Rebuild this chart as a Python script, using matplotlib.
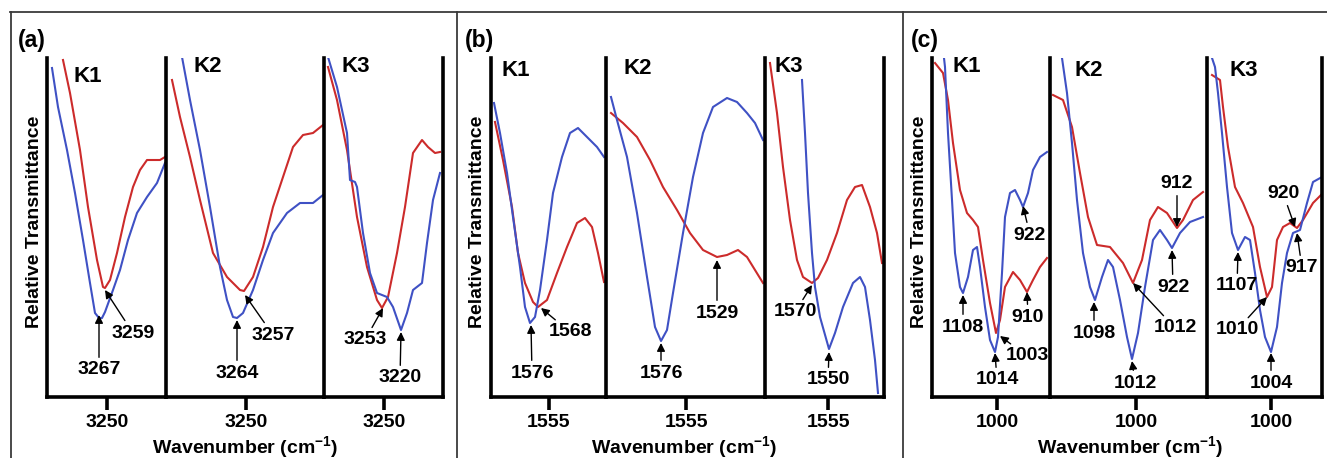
import matplotlib.pyplot as plt
from matplotlib.lines import Line2D

plt.rcParams['font.family'] = 'Liberation Sans'
plt.rcParams['font.weight'] = 'bold'
plt.rcParams['mathtext.fontset'] = 'custom'
plt.rcParams['mathtext.rm'] = 'Liberation Sans:bold'
plt.rcParams['mathtext.default'] = 'rm'

RED = '#cc2b2b'
BLUE = '#3f51c4'

# panel (a): wavenumber (cm-1) and relative transmittance (arbitrary units)
a_k1_blue_x = [3360, 3348, 3330, 3314, 3298, 3284, 3274, 3266, 3260, 3254, 3238, 3224, 3208, 3190, 3170, 3150, 3134]
a_k1_blue_y = [329, 290, 247, 204, 157, 114, 84, 79, 79, 85, 107, 127, 157, 184, 200, 214, 234]
a_k1_red_x = [3338, 3324, 3304, 3288, 3270, 3258, 3254, 3244, 3230, 3214, 3198, 3184, 3170, 3144, 3134]
a_k1_red_y = [337, 304, 247, 190, 137, 110, 109, 117, 144, 180, 210, 227, 237, 237, 240]
a_k2_blue_x = [3378, 3362, 3342, 3322, 3302, 3288, 3276, 3268, 3256, 3236, 3216, 3196, 3168, 3142, 3116, 3096]
a_k2_blue_y = [340, 297, 247, 190, 130, 97, 80, 79, 84, 107, 137, 164, 184, 194, 194, 202]
a_k2_red_x = [3398, 3382, 3362, 3342, 3316, 3288, 3262, 3254, 3236, 3216, 3196, 3176, 3156, 3136, 3116, 3096]
a_k2_red_y = [317, 280, 240, 197, 144, 120, 107, 106, 120, 150, 190, 220, 250, 262, 264, 272]
a_k3_blue_x = [3362, 3344, 3324, 3318, 3308, 3304, 3292, 3278, 3264, 3244, 3232, 3216, 3204, 3192, 3174, 3164, 3152, 3138]
a_k3_blue_y = [340, 310, 264, 217, 215, 210, 164, 124, 104, 100, 90, 67, 84, 107, 114, 154, 197, 224]
a_k3_red_x = [3362, 3344, 3324, 3304, 3284, 3264, 3254, 3242, 3224, 3208, 3192, 3174, 3162, 3148, 3138]
a_k3_red_y = [330, 297, 247, 180, 130, 97, 89, 100, 144, 190, 244, 257, 250, 244, 245]

# panel (b)
b_k1_blue_x = [1610, 1604, 1597, 1591, 1584, 1579, 1574, 1569, 1564, 1557, 1551, 1542, 1534, 1526, 1517, 1507, 1500]
b_k1_blue_y = [294, 264, 224, 180, 130, 90, 74, 80, 107, 157, 204, 240, 264, 269, 260, 250, 240]
b_k1_red_x = [1609, 1601, 1592, 1586, 1579, 1571, 1566, 1557, 1547, 1537, 1527, 1519, 1512, 1506, 1500]
b_k1_red_y = [275, 237, 190, 144, 114, 95, 90, 97, 124, 150, 174, 179, 170, 144, 115]
b_k2_blue_x = [1630, 1624, 1614, 1604, 1594, 1586, 1580, 1574, 1568, 1558, 1548, 1538, 1528, 1514, 1504, 1494, 1486, 1478]
b_k2_blue_y = [300, 277, 240, 184, 120, 70, 56, 67, 104, 164, 220, 264, 290, 299, 295, 284, 274, 257]
b_k2_red_x = [1630, 1618, 1604, 1591, 1578, 1564, 1551, 1538, 1524, 1514, 1503, 1494, 1486, 1478]
b_k2_red_y = [284, 274, 260, 237, 210, 187, 164, 147, 140, 142, 147, 140, 127, 114]
b_k3_blue_x = [1581, 1578, 1575, 1571, 1568, 1563, 1554, 1548, 1540, 1530, 1523, 1518, 1513, 1508, 1505]
b_k3_blue_y = [317, 264, 204, 144, 110, 80, 48, 64, 90, 114, 120, 110, 77, 37, 4]
b_k3_red_x = [1613, 1606, 1600, 1593, 1586, 1580, 1571, 1565, 1556, 1546, 1536, 1528, 1521, 1513, 1506, 1501]
b_k3_red_y = [334, 284, 230, 177, 137, 120, 114, 119, 137, 164, 197, 210, 212, 190, 164, 134]

# panel (c)
c_k1_blue_x = [1159, 1156, 1147, 1135, 1126, 1111, 1102, 1087, 1072, 1060, 1051, 1036, 1021, 1006, 997, 985, 976, 961, 946, 931, 922, 907, 892, 871, 850]
c_k1_blue_y = [339, 330, 264, 197, 144, 110, 104, 120, 147, 150, 130, 90, 57, 45, 60, 124, 180, 204, 207, 197, 190, 204, 227, 240, 245]
c_k1_red_x = [1186, 1162, 1147, 1132, 1111, 1090, 1072, 1057, 1042, 1021, 1003, 991, 976, 952, 931, 910, 892, 871, 850]
c_k1_red_y = [334, 324, 297, 254, 207, 184, 177, 170, 137, 94, 64, 77, 110, 125, 117, 105, 117, 130, 139]
c_k2_blue_x = [1222, 1207, 1192, 1177, 1159, 1138, 1123, 1102, 1084, 1069, 1048, 1027, 1012, 994, 973, 949, 928, 907, 892, 868, 838, 799]
c_k2_blue_y = [339, 304, 254, 197, 144, 110, 97, 120, 137, 130, 97, 60, 38, 64, 110, 157, 167, 157, 149, 164, 175, 180]
c_k2_red_x = [1249, 1219, 1192, 1168, 1144, 1117, 1078, 1039, 1009, 982, 958, 934, 907, 877, 859, 829, 799]
c_k2_red_y = [302, 297, 270, 224, 180, 152, 150, 134, 114, 137, 177, 190, 184, 169, 177, 197, 205]
c_k3_blue_x = [1177, 1168, 1159, 1147, 1132, 1117, 1099, 1078, 1063, 1048, 1033, 1018, 1000, 982, 967, 952, 934, 913, 892, 874, 847]
c_k3_blue_y = [339, 330, 304, 264, 210, 164, 147, 160, 157, 124, 87, 60, 45, 70, 114, 144, 164, 167, 194, 215, 220]
c_k3_red_x = [1177, 1153, 1144, 1129, 1108, 1084, 1054, 1033, 1012, 997, 982, 964, 943, 922, 904, 874, 847]
c_k3_red_y = [322, 317, 290, 250, 210, 194, 170, 130, 100, 110, 157, 170, 174, 169, 177, 194, 203]

# peak labels: (text, peak x, peak y, label x, label y)
a_k1_peaks = [('3267', 3266, 82, 3266, 27), ('3259', 3254, 107, 3198, 64)]
a_k2_peaks = [('3264', 3268, 77, 3268, 24), ('3257', 3252, 102, 3196, 62)]
a_k3_peaks = [('3253', 3252, 89, 3288, 57), ('3220', 3216, 65, 3218, 19)]
b_k1_peaks = [('1576', 1573, 72, 1572, 24), ('1568', 1563, 89, 1534, 65)]
b_k2_peaks = [('1576', 1580, 54, 1580, 24), ('1529', 1524, 137, 1524, 84)]
b_k3_peaks = [('1570', 1571, 112, 1588, 85), ('1550', 1554, 45, 1555, 17)]
c_k1_peaks = [('922', 922, 191, 901, 162), ('910', 910, 105, 907, 80), ('1108', 1102, 102, 1102, 70),
              ('1003', 991, 61, 910, 41), ('1014', 1006, 44, 1000, 17)]
c_k2_peaks = [('1098', 1126, 95, 1126, 64), ('1012', 1009, 114, 883, 69), ('1012', 1012, 36, 1003, 14),
              ('912', 877, 170, 877, 214), ('922', 892, 147, 889, 110)]
c_k3_peaks = [('920', 928, 170, 964, 204), ('917', 922, 164, 907, 129), ('1107', 1099, 145, 1102, 111),
              ('1010', 1012, 100, 1102, 67), ('1004', 1000, 44, 1000, 14)]

W, H = 1327, 458
fig = plt.figure(figsize=(W / 100, H / 100), dpi=100)

def fx(px):
    return px / W

def fy(py):
    return 1 - py / H

TOP, BOT = 58, 397

panels = [
    dict(tag='(a)', tick=3250, step=2, edges=[47, 166, 324, 443], tickpx=[107, 246, 384],
         tagx=18, ylab=35, xlab=245, kpos=[(88, 77), (208, 67), (356, 67)],
         curves=[(a_k1_red_x, a_k1_red_y, a_k1_blue_x, a_k1_blue_y, a_k1_peaks),
                 (a_k2_red_x, a_k2_red_y, a_k2_blue_x, a_k2_blue_y, a_k2_peaks),
                 (a_k3_red_x, a_k3_red_y, a_k3_blue_x, a_k3_blue_y, a_k3_peaks)]),
    dict(tag='(b)', tick=1555, step=1, edges=[491, 606, 765, 884], tickpx=[549, 686, 828],
         tagx=465, ylab=477, xlab=684, kpos=[(516, 70), (638, 68), (789, 67)],
         curves=[(b_k1_red_x, b_k1_red_y, b_k1_blue_x, b_k1_blue_y, b_k1_peaks),
                 (b_k2_red_x, b_k2_red_y, b_k2_blue_x, b_k2_blue_y, b_k2_peaks),
                 (b_k3_red_x, b_k3_red_y, b_k3_blue_x, b_k3_blue_y, b_k3_peaks)]),
    dict(tag='(c)', tick=1000, step=3, edges=[932, 1050, 1207, 1322], tickpx=[997, 1136, 1271],
         tagx=911, ylab=920, xlab=1130, kpos=[(967, 67), (1089, 70), (1244, 70)],
         curves=[(c_k1_red_x, c_k1_red_y, c_k1_blue_x, c_k1_blue_y, c_k1_peaks),
                 (c_k2_red_x, c_k2_red_y, c_k2_blue_x, c_k2_blue_y, c_k2_peaks),
                 (c_k3_red_x, c_k3_red_y, c_k3_blue_x, c_k3_blue_y, c_k3_peaks)]),
]

for p in panels:
    for i in range(3):
        l, r = p['edges'][i], p['edges'][i + 1]
        ax = fig.add_axes([fx(l), fy(BOT), (r - l) / W, (BOT - TOP) / H])
        ax.set_facecolor('none')
        rx, ry, bx, by, peaks = p['curves'][i]
        ax.plot(rx, ry, color=RED, lw=1.5)
        ax.plot(bx, by, color=BLUE, lw=1.5)
        t = p['tick']
        ax.set_xlim(t + (p['tickpx'][i] - l) * p['step'], t - (r - p['tickpx'][i]) * p['step'])
        ax.set_ylim(0, 339)
        ax.set_yticks([])
        ax.set_xticks([t])
        ax.tick_params(axis='x', length=9, width=2.6, pad=3, labelsize=14)
        ax.spines['top'].set_visible(False)
        ax.spines['right'].set_visible(i == 2)
        for s in ax.spines.values():
            s.set_linewidth(2.6)
            s.set_capstyle('projecting')
        for lab, px_, py_, tx, ty in peaks:
            ax.annotate(lab, xy=(px_, py_), xytext=(tx, ty), ha='center', va='center',
                        fontsize=14, fontweight='bold', annotation_clip=False,
                        arrowprops=dict(arrowstyle='-|>', color='black', lw=1,
                                        mutation_scale=12, shrinkA=1, shrinkB=0))
        kx, ky = p['kpos'][i]
        fig.text(fx(kx), fy(ky), 'K%d' % (i + 1), fontsize=16, fontweight='bold', ha='center', va='center')
    fig.text(fx(p['tagx']), fy(40), p['tag'], fontsize=16.5, fontweight='bold', ha='left', va='center')
    fig.text(fx(p['ylab']), fy(222), 'Relative Transmittance', rotation=90, fontsize=14,
             fontweight='bold', ha='center', va='center')
    fig.text(fx(p['xlab']), fy(447), 'Wavenumber (cm$^{-1}$)', fontsize=14,
             fontweight='bold', ha='center', va='center')

# outer frame lines
fig.add_artist(Line2D([fx(10), 1], [fy(12), fy(12)], color='#3a3a3a', lw=1.3))
for xx in [11, 457, 903]:
    fig.add_artist(Line2D([fx(xx), fx(xx)], [fy(12), 0], color='#3a3a3a', lw=1.3))

fig.savefig('out.png', dpi=100)
